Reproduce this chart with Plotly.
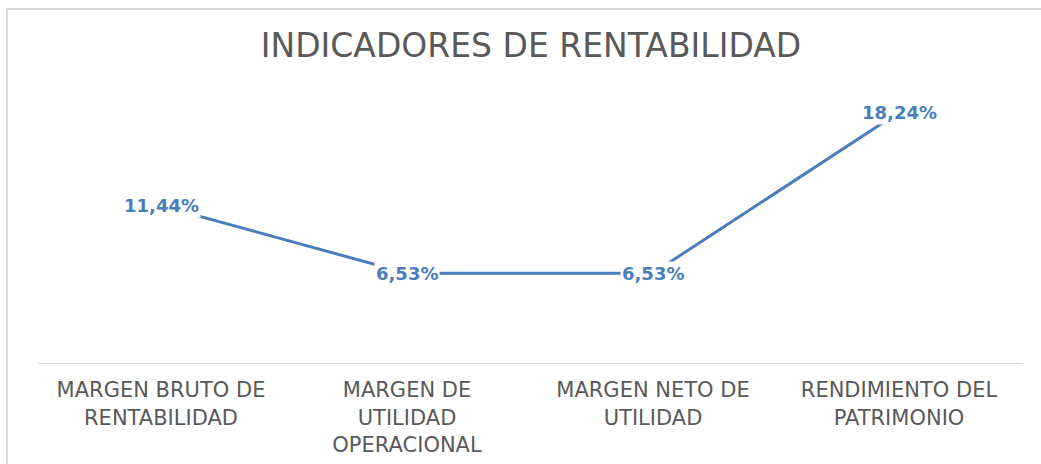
import plotly.graph_objects as go

categories = ["MARGEN BRUTO DE<br>RENTABILIDAD", "MARGEN DE<br>UTILIDAD<br>OPERACIONAL",
              "MARGEN NETO DE<br>UTILIDAD", "RENDIMIENTO DEL<br>PATRIMONIO"]
values = [0.1144, 0.0653, 0.0653, 0.1824]
labels = [f"{v*100:.2f}%".replace(".", ",") for v in values]

W, H = 1041, 464
L, R, T, B = 38, 19, 88, 101
pw, ph = W - L - R, H - T - B

blue = "#4A7EBB"
gray = "#595959"
font_main = "DejaVu Sans, sans-serif"

fig = go.Figure()
fig.add_trace(go.Scatter(x=categories, y=values, mode="lines",
                         line=dict(color=blue, width=3), hoverinfo="skip"))

for c, v, t in zip(categories, values, labels):
    fig.add_annotation(x=c, y=v, text=f"<b>{t}</b>", showarrow=False,
                       bgcolor="white", borderpad=1,
                       font=dict(family="DejaVu Sans, sans-serif", size=18, color=blue))

# chart frame (left and top borders; right/bottom extend beyond the picture)
fx0 = (7 - L) / pw
fx1 = (W + 10 - L) / pw
fy1 = 1 + (T - 9) / ph
fy0 = -(H + 10 - T) / ph
fig.add_shape(type="rect", xref="paper", yref="paper", x0=fx0, x1=fx1, y0=fy0, y1=fy1,
              line=dict(color="#D9D9D9", width=2), fillcolor="rgba(0,0,0,0)", layer="above")

fig.update_layout(
    width=W, height=H,
    margin=dict(l=L, r=R, t=T, b=B, autoexpand=False),
    paper_bgcolor="white", plot_bgcolor="white",
    showlegend=False,
    title=dict(text="INDICADORES DE RENTABILIDAD", x=531 / W, xanchor="center",
               y=1 - 45 / H, yanchor="middle",
               font=dict(family=font_main, size=33, color=gray)),
    xaxis=dict(type="category", range=[-0.5, 3.5], showgrid=False, zeroline=False,
               showline=True, linecolor="#D9D9D9", linewidth=1, automargin=False,
               ticks="outside", ticklen=8, tickcolor="rgba(0,0,0,0)",
               tickfont=dict(family=font_main, size=21, color=gray)),
    yaxis=dict(range=[0, 0.2], visible=False, automargin=False),
)

fig.write_html("out.html", config={"displayModeBar": False},
               post_script="document.body.style.margin='0px';document.body.style.overflow='hidden';")
